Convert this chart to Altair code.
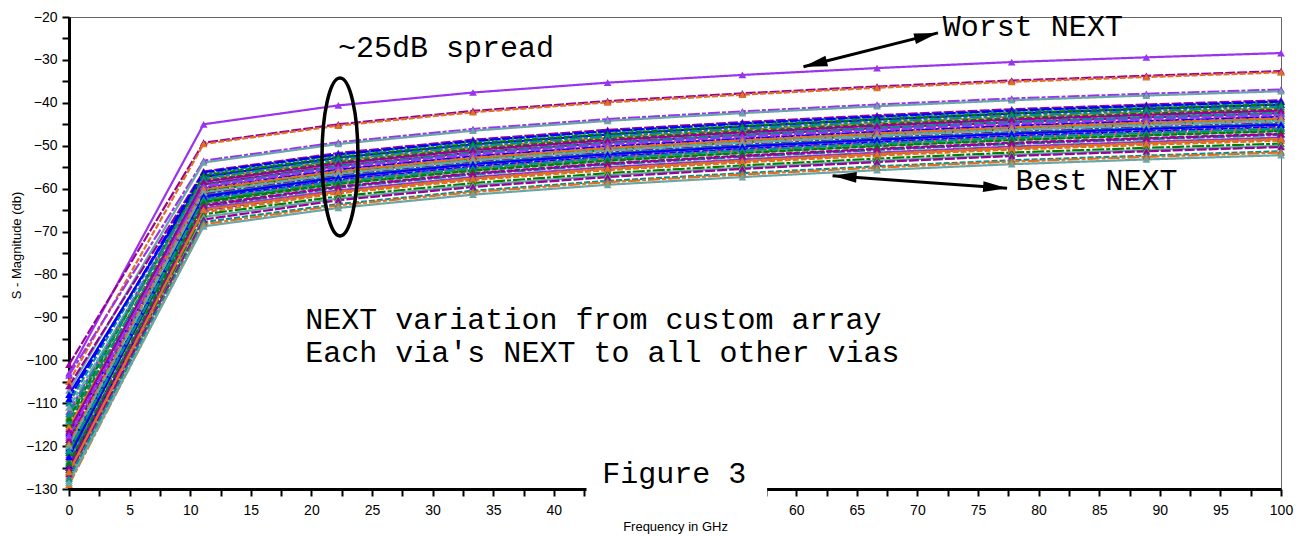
import altair as alt
import pandas as pd

# ---------------- data ----------------
FREQ_GHZ = [0.0, 11.11, 22.22, 33.33, 44.44, 55.56, 66.67, 77.78, 88.89, 100.0]

NEXT_DB = [
    [-103.0, -45.0, -40.6, -37.6, -35.3, -33.5, -31.9, -30.5, -29.4, -28.4],
    [-101.0, -49.3, -45.0, -41.9, -39.6, -37.8, -36.2, -34.8, -33.7, -32.6],
    [-105.0, -49.6, -45.3, -42.2, -39.9, -38.1, -36.5, -35.1, -34.0, -32.9],
    [-103.5, -53.5, -49.2, -46.1, -43.8, -42.0, -40.4, -39.0, -37.9, -36.9],
    [-107.0, -53.9, -49.6, -46.5, -44.2, -42.4, -40.8, -39.4, -38.3, -37.3],
    [-106.0, -56.0, -51.7, -48.6, -46.3, -44.5, -42.9, -41.5, -40.4, -39.4],
    [-110.0, -56.5, -52.1, -49.0, -46.7, -44.9, -43.3, -41.9, -40.8, -39.8],
    [-112.0, -57.0, -52.8, -49.7, -47.4, -45.6, -44.0, -42.6, -41.5, -40.5],
    [-108.0, -57.3, -52.8, -49.7, -47.4, -45.5, -43.9, -42.5, -41.4, -40.4],
    [-113.0, -57.8, -53.5, -50.4, -48.1, -46.3, -44.7, -43.3, -42.2, -41.2],
    [-115.0, -58.2, -53.8, -50.7, -48.4, -46.6, -45.0, -43.6, -42.5, -41.5],
    [-111.0, -58.6, -54.4, -51.3, -49.0, -47.2, -45.6, -44.2, -43.1, -42.1],
    [-116.0, -59.0, -54.7, -51.6, -49.3, -47.5, -45.9, -44.5, -43.4, -42.4],
    [-114.0, -59.3, -54.8, -51.7, -49.4, -47.5, -45.9, -44.5, -43.4, -42.4],
    [-118.0, -59.7, -55.5, -52.4, -50.1, -48.3, -46.7, -45.3, -44.2, -43.2],
    [-117.0, -60.0, -55.6, -52.5, -50.2, -48.4, -46.8, -45.4, -44.3, -43.3],
    [-115.5, -60.3, -56.0, -52.9, -50.6, -48.8, -47.2, -45.8, -44.7, -43.7],
    [-119.0, -60.6, -56.4, -53.3, -51.0, -49.2, -47.6, -46.2, -45.1, -44.1],
    [-120.0, -61.0, -56.5, -53.4, -51.1, -49.2, -47.6, -46.2, -45.1, -44.1],
    [-118.5, -61.3, -57.0, -53.9, -51.6, -49.8, -48.2, -46.8, -45.7, -44.7],
    [-121.0, -61.6, -57.2, -54.1, -51.8, -50.0, -48.4, -47.0, -45.9, -44.9],
    [-122.0, -62.0, -57.8, -54.7, -52.4, -50.6, -49.0, -47.6, -46.5, -45.5],
    [-120.5, -62.3, -58.0, -54.9, -52.6, -50.8, -49.2, -47.8, -46.7, -45.7],
    [-123.0, -62.7, -58.3, -55.2, -52.9, -51.1, -49.5, -48.1, -47.0, -46.0],
    [-121.5, -63.0, -58.8, -55.7, -53.4, -51.6, -50.0, -48.6, -47.5, -46.5],
    [-124.0, -63.4, -58.9, -55.8, -53.5, -51.6, -50.0, -48.6, -47.5, -46.5],
    [-125.0, -63.8, -59.5, -56.4, -54.1, -52.3, -50.7, -49.3, -48.2, -47.2],
    [-123.5, -64.2, -59.8, -56.7, -54.4, -52.6, -51.0, -49.6, -48.5, -47.5],
    [-126.0, -64.6, -60.4, -57.3, -55.0, -53.2, -51.6, -50.2, -49.1, -48.1],
    [-124.5, -65.0, -60.7, -57.6, -55.3, -53.5, -51.9, -50.5, -49.4, -48.4],
    [-127.0, -65.5, -61.1, -58.0, -55.7, -53.9, -52.3, -50.9, -49.8, -48.8],
    [-125.5, -66.0, -61.8, -58.7, -56.4, -54.6, -53.0, -51.6, -50.5, -49.5],
    [-128.0, -66.6, -62.3, -59.2, -56.9, -55.1, -53.5, -52.1, -51.0, -50.0],
    [-126.5, -67.2, -62.7, -59.6, -57.3, -55.4, -53.8, -52.4, -51.3, -50.3],
    [-127.5, -67.8, -63.6, -60.5, -58.2, -56.4, -54.8, -53.4, -52.3, -51.3],
    [-129.0, -68.3, -63.9, -60.8, -58.5, -56.7, -55.1, -53.7, -52.6, -51.6],
    [-128.5, -68.8, -64.5, -61.4, -59.1, -57.3, -55.7, -54.3, -53.2, -52.2],
    [-109.0, -56.2, -52.0, -48.9, -46.6, -44.8, -43.2, -41.8, -40.7, -39.7],
    [-113.5, -56.9, -52.6, -49.5, -47.2, -45.4, -43.8, -42.4, -41.3, -40.3],
    [-112.5, -57.6, -53.2, -50.1, -47.8, -46.0, -44.4, -43.0, -41.9, -40.9],
    [-116.5, -58.4, -54.1, -51.0, -48.7, -46.9, -45.3, -43.9, -42.8, -41.8],
    [-117.5, -59.5, -55.1, -52.0, -49.7, -47.9, -46.3, -44.9, -43.8, -42.8],
    [-119.5, -60.1, -55.9, -52.8, -50.5, -48.7, -47.1, -45.7, -44.6, -43.6],
    [-120.0, -60.8, -56.5, -53.4, -51.1, -49.3, -47.7, -46.3, -45.2, -44.2],
    [-122.5, -61.8, -57.4, -54.3, -52.0, -50.2, -48.6, -47.2, -46.1, -45.1],
    [-121.0, -62.5, -58.3, -55.2, -52.9, -51.1, -49.5, -48.1, -47.0, -46.0],
    [-124.0, -63.2, -58.9, -55.8, -53.5, -51.7, -50.1, -48.7, -47.6, -46.6],
    [-125.0, -64.0, -59.6, -56.5, -54.2, -52.4, -50.8, -49.4, -48.3, -47.3],
    [-126.0, -64.9, -60.7, -57.6, -55.3, -53.5, -51.9, -50.5, -49.4, -48.4],
]

VIOLET, DMAG, ORANGE, TEAL, GTEAL, BLUE, GREEN = (
    "#9933ee", "#990099", "#e07020", "#009090", "#6aa6a6", "#0000ff", "#008000")

SERIES_COLORS = [VIOLET, DMAG, ORANGE, VIOLET, GTEAL,
                 DMAG, TEAL, VIOLET, BLUE, ORANGE, GREEN, GTEAL,
                 DMAG, TEAL, VIOLET, BLUE, ORANGE, GREEN, GTEAL,
                 DMAG, TEAL, VIOLET, BLUE, ORANGE, GREEN, GTEAL,
                 DMAG, TEAL, VIOLET, BLUE, ORANGE, GREEN, GTEAL,
                 DMAG, TEAL, ORANGE, GTEAL,
                 BLUE, GREEN, TEAL, DMAG, VIOLET, ORANGE, GTEAL, BLUE, TEAL, GREEN, DMAG, ORANGE]

DASHES = [[1, 0], [10, 2], [6, 2], [12, 2, 4, 2]]
SERIES_DASH = [DASHES[i % 4] for i in range(len(NEXT_DB))]

X_TICKS = [i * 2.5 for i in range(41)]
Y_TICKS = list(range(-130, -19, 5))

ANNOT_TEXT = ["~25dB spread", "Worst NEXT", "Best NEXT",
              "NEXT variation from custom array",
              "Each via's NEXT to all other vias", "Figure 3"]
ANNOT_X = [22.2, 72.1, 78.1, 19.5, 19.5, 44.0]
ANNOT_Y = [-29.3, -24.4, -60.3, -92.7, -100.4, -128.6]

ARROW_X = [60.6, 63.0]
ARROW_Y = [-31.6, -57.0]
ARROW_X2 = [71.7, 77.4]
ARROW_Y2 = [-23.7, -59.9]
ARROW_ANGLE_START = [256, 274]
ARROW_ANGLE_END = [76, 94]

ELLIPSE_X = [22.36]
ELLIPSE_Y = [-52.6]

COVER_X = [42.7]
COVER_X2 = [57.6]
COVER_Y = [-122.0]
COVER_Y2 = [-137.0]

# ---------------- tables ----------------
series_ids = [f"S{i:02d}" for i in range(len(NEXT_DB))]
rows = []
for sid, vals in zip(series_ids, NEXT_DB):
    for f, v in zip(FREQ_GHZ, vals):
        rows.append({"series": sid, "freq": f, "db": v})
df = pd.DataFrame(rows)

annot_df = pd.DataFrame({"text": ANNOT_TEXT, "freq": ANNOT_X, "db": ANNOT_Y})
arrow_df = pd.DataFrame({"freq": ARROW_X, "db": ARROW_Y, "freq2": ARROW_X2, "db2": ARROW_Y2})
heads_df = pd.concat([
    pd.DataFrame({"freq": ARROW_X, "db": ARROW_Y, "ang": ARROW_ANGLE_START}),
    pd.DataFrame({"freq": ARROW_X2, "db": ARROW_Y2, "ang": ARROW_ANGLE_END}),
], ignore_index=True)
ell_df = pd.DataFrame({"freq": ELLIPSE_X, "db": ELLIPSE_Y})
cover_df = pd.DataFrame({"freq": COVER_X, "freq2": COVER_X2, "db": COVER_Y, "db2": COVER_Y2})

# ---------------- scales / axes ----------------
x_scale = alt.Scale(domain=[0, 100], nice=False, zero=False)
y_scale = alt.Scale(domain=[-130, -20], nice=False, zero=False)

common_axis = dict(grid=False, domainColor="black", domainWidth=3, tickColor="black",
                   tickWidth=2, tickSize=7, labelFont="Liberation Sans", labelFontSize=14,
                   labelColor="black", labelOverlap=False, labelFlush=False, labelBound=False,
                   titleFont="Liberation Sans", titleFontSize=13, titleFontWeight="normal",
                   titleColor="black")

x_axis = alt.Axis(values=X_TICKS,
                  labelExpr="datum.value % 5 === 0 ? format(datum.value, 'd') : ''",
                  labelPadding=7, title="Frequency in GHz", titleY=31, titleBaseline="top",
                  **common_axis)
y_axis = alt.Axis(values=Y_TICKS,
                  labelExpr="datum.value % 10 === 0 ? format(datum.value, 'd') : ''",
                  labelPadding=5, title="S - Magnitude (db)", titleX=-53, titleY=228,
                  titleBaseline="middle", titleAngle=270,
                  **common_axis)


def X(field="freq"):
    return alt.X(f"{field}:Q", scale=x_scale, axis=x_axis)


def Y(field="db"):
    return alt.Y(f"{field}:Q", scale=y_scale, axis=y_axis)


color_enc = alt.Color("series:N", scale=alt.Scale(domain=series_ids, range=SERIES_COLORS), legend=None)

lines = alt.Chart(df).mark_line(strokeWidth=2.2).encode(
    x=X(), y=Y(), color=color_enc,
    strokeDash=alt.StrokeDash("series:N", scale=alt.Scale(domain=series_ids, range=SERIES_DASH), legend=None),
    detail="series:N",
)

points = alt.Chart(df).mark_point(shape="triangle-up", filled=True, size=60, opacity=1).encode(
    x=X(), y=Y(), color=color_enc,
)

cover = alt.Chart(cover_df).mark_rect(color="white").encode(
    x=X(), x2="freq2:Q", y=Y(), y2="db2:Q",
)

ELLIPSE_PATH = ("M0,-1 C0.126,-1 0.228,-0.552 0.228,0 C0.228,0.552 0.126,1 0,1 "
                "C-0.126,1 -0.228,0.552 -0.228,0 C-0.228,-0.552 -0.126,-1 0,-1 Z")
ellipse = alt.Chart(ell_df).mark_point(shape=ELLIPSE_PATH, size=24964, filled=False,
                                        stroke="black", strokeWidth=3.5, opacity=1).encode(
    x=X(), y=Y(),
)

arrow_lines = alt.Chart(arrow_df).mark_rule(color="black", strokeWidth=3).encode(
    x=X(), y=Y(), x2="freq2:Q", y2="db2:Q",
)

HEAD_PATH = "M0,0 L0.45,2 L-0.45,2 Z"
arrow_heads = alt.Chart(heads_df).mark_point(shape=HEAD_PATH, size=576, filled=True,
                                              color="black", opacity=1).encode(
    x=X(), y=Y(), angle=alt.Angle("ang:Q", scale=None),
)

texts = alt.Chart(annot_df).mark_text(font="Liberation Mono", fontSize=30, color="black",
                                       align="left", baseline="alphabetic").encode(
    x=X(), y=Y(), text="text:N",
)

chart = alt.layer(lines, points, cover, ellipse, arrow_lines, arrow_heads, texts).properties(
    width=1212, height=472,
    autosize=alt.AutoSizeParams(type="none"),
    padding={"left": 61, "top": 9, "right": 14, "bottom": 46},
    background="white",
).configure_view(stroke="#666666", strokeWidth=1)

chart.save("out.html", embed_options={"renderer": "svg", "actions": False})
